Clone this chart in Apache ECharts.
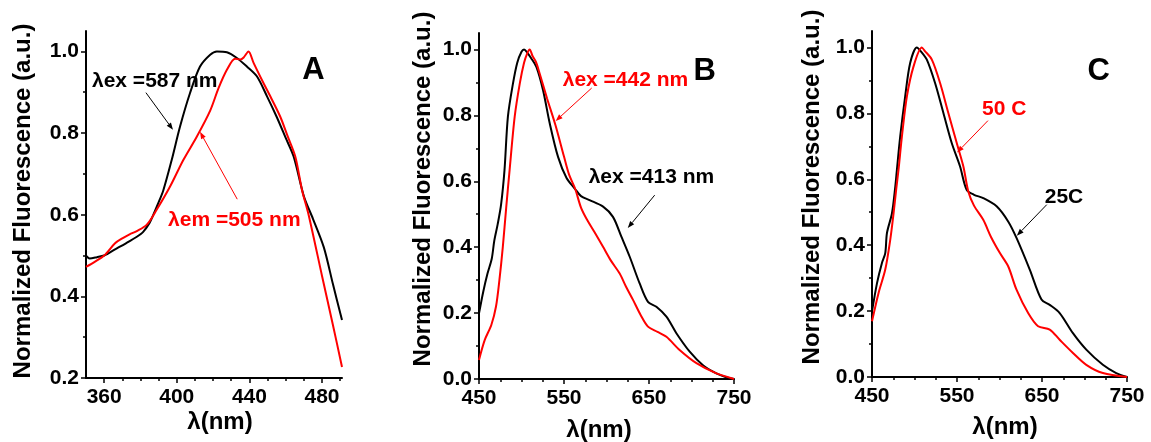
<!DOCTYPE html>
<html>
<head>
<meta charset="utf-8">
<script src="https://cdn.jsdelivr.net/npm/echarts@6/dist/echarts.min.js"></script>
<style>html,body{margin:0;padding:0;background:#fff}#c{width:1151px;height:442px}</style>
</head>
<body>
<div id="c"></div>
<script>
// ---------- data ----------
// Panel A
const A_black_x = [350,352,356,360,366,372,378,381.5,385,387,389.5,392.6,397.2,401.8,407.3,412.8,418.4,422.1,427.6,433.1,438.6,444.1,449.7,455,460,464.4,470,475,481,486,491];
const A_black_y = [0.500,0.493,0.496,0.500,0.515,0.530,0.546,0.558,0.580,0.599,0.625,0.660,0.734,0.816,0.898,0.963,0.992,1.000,0.998,0.984,0.963,0.939,0.890,0.840,0.788,0.742,0.645,0.590,0.520,0.430,0.342];
const A_red_x = [350,355,360,366,370,374,378,383.4,388.9,396.3,403.6,411,418.4,423,427.6,432.2,435,437,439.5,442.3,447.8,451.5,457,461,465.3,469,472.6,480,486,491];
const A_red_y = [0.472,0.485,0.500,0.530,0.542,0.552,0.560,0.575,0.612,0.669,0.734,0.791,0.855,0.910,0.955,0.982,0.980,0.986,1.000,0.972,0.922,0.890,0.840,0.793,0.742,0.660,0.600,0.450,0.330,0.227];
// Panel B
const B_black_x = [450,455,460,465,468,472,476,480,484,490,495,500,503,507,511,517.5,525.3,533.2,543,553,562.6,570,580,596,607.6,617.5,627.3,639,648.8,658.7,670.5,682.2,697.9,713.5,729.3,740,750];
const B_black_y = [0.199,0.265,0.320,0.365,0.420,0.470,0.530,0.634,0.796,0.897,0.960,0.993,1.000,0.990,0.975,0.947,0.877,0.776,0.674,0.610,0.578,0.555,0.543,0.523,0.492,0.432,0.371,0.290,0.234,0.219,0.189,0.139,0.083,0.042,0.017,0.006,0.000];
const B_red_x = [450,456.7,464.5,470,474,478,482,486,492,498,503,507,509.6,513,517,521,530,540,550,556,563,570,576.3,586,595.9,605,615.5,623,631.2,640,648.8,660,670.5,686,705.8,729.3,750];
const B_red_y = [0.058,0.118,0.164,0.220,0.300,0.400,0.520,0.634,0.796,0.897,0.960,0.990,1.000,0.980,0.962,0.930,0.852,0.770,0.675,0.620,0.578,0.520,0.487,0.445,0.401,0.360,0.320,0.280,0.240,0.195,0.159,0.143,0.128,0.088,0.048,0.017,0.000];
// Panel C
const C_black_x = [450,455.9,461.7,465.6,467.6,473.5,477.4,479.3,483.2,489,494.9,502.8,507,514.5,524.2,534,543.8,553.6,561.4,570,580.9,596.6,610.2,620,635.6,649.4,659.1,670.8,686.4,702.1,721.6,737.3,750];
const C_black_y = [0.199,0.285,0.346,0.376,0.437,0.497,0.578,0.629,0.730,0.851,0.953,1.000,0.990,0.963,0.892,0.801,0.710,0.639,0.568,0.553,0.543,0.518,0.472,0.422,0.326,0.235,0.219,0.194,0.133,0.083,0.037,0.012,0.000];
const C_red_x = [450,457.8,465.6,471.5,475.4,478.5,481.2,485.2,491,498.8,508.6,512,520.4,530.1,539.8,549.7,557.5,563.3,570,580.9,590,600.5,610.2,620,633.7,645.4,659.1,670.8,686.4,702.1,721.6,750];
const C_red_y = [0.169,0.256,0.326,0.417,0.497,0.570,0.629,0.730,0.851,0.942,1.000,0.990,0.963,0.892,0.801,0.710,0.639,0.563,0.520,0.477,0.425,0.376,0.336,0.265,0.194,0.154,0.144,0.113,0.073,0.037,0.012,0.000];

// tick labels
const A_xTicks = [360,400,440,480];
const A_xMinor = [370,380,390,410,420,430,450,460,470,490];
const A_yTicks = [0.2,0.4,0.6,0.8,1.0];
const A_yMinor = [0.3,0.5,0.7,0.9];
const BC_xTicks = [450,550,650,750];
const BC_xMinor = [475,500,525,575,600,625,675,700,725];
const BC_yTicks = [0.0,0.2,0.4,0.6,0.8,1.0];
const BC_yMinor = [0.1,0.3,0.5,0.7,0.9];

// annotations (data coordinates)
const panelLetters = ['A','B','C'];
const annotTexts = [
  {g:0, text:'λex =587 nm', color:'#000', at:[353.3,0.926]},
  {g:0, text:'λem =505 nm', color:'#ff0000', at:[395.2,0.587]},
  {g:1, text:'λex =442 nm', color:'#ff0000', at:[548.5,0.907]},
  {g:1, text:'λex =413 nm', color:'#000', at:[579,0.613]},
  {g:2, text:'50 C', color:'#ff0000', at:[579.4,0.814]},
  {g:2, text:'25C', color:'#000', at:[653.2,0.547]}
];
const annotArrows = [
  {g:0, color:'#000', from:[383.0,0.899], to:[397.9,0.808]},
  {g:0, color:'#ff0000', from:[433.3,0.638], to:[412.8,0.803]},
  {g:1, color:'#ff0000', from:[582.6,0.883], to:[540.2,0.783]},
  {g:1, color:'#000', from:[656.7,0.558], to:[625,0.458]},
  {g:2, color:'#ff0000', from:[586.4,0.778], to:[550,0.681]},
  {g:2, color:'#000', from:[655.6,0.523], to:[620.4,0.429]}
];
const letterPos = [[475.3,0.953],[715.5,0.934],[716.7,0.926]];

// ---------- chart ----------
const FONT = '"Liberation Sans", Arial, Helvetica, sans-serif';
const zip = (xs, ys) => xs.map((x, i) => [x, ys[i]]);
const grids = [
  {left:86, top:31, width:256, height:347},
  {left:479, top:33, width:255, height:346},
  {left:872, top:31, width:255, height:346}
];
const axLine = {show:true, onZero:false, lineStyle:{color:'#000', width:2}};
const hiddenLine = {show:true, onZero:false, lineStyle:{color:'rgba(0,0,0,0)', width:0}};
const tickStyle = {color:'#000', width:1.5};
const labStyle = {color:'#000', fontSize:21, fontWeight:'bold', fontFamily:FONT};

function xAxes(g, min, max, ticks, minors){
  return [
    {type:'value', gridIndex:g, position:'bottom', min, max, axisLine:axLine,
     axisTick:{show:true, customValues:ticks, length:5, lineStyle:tickStyle},
     axisLabel:Object.assign({customValues:ticks, margin:9, formatter:v=>String(v)}, labStyle),
     splitLine:{show:false}},
    {type:'value', gridIndex:g, position:'bottom', min, max, axisLine:hiddenLine,
     axisTick:{show:true, customValues:minors, length:3, lineStyle:tickStyle},
     axisLabel:{show:false}, splitLine:{show:false}}
  ];
}
function yAxes(g, min, max, ticks, minors){
  return [
    {type:'value', gridIndex:g, position:'left', min, max, axisLine:axLine,
     axisTick:{show:true, customValues:ticks, length:5, lineStyle:tickStyle},
     axisLabel:Object.assign({customValues:ticks, margin:7, formatter:v=>v.toFixed(1)}, labStyle),
     splitLine:{show:false}},
    {type:'value', gridIndex:g, position:'left', min, max, axisLine:hiddenLine,
     axisTick:{show:true, customValues:minors, length:3, lineStyle:tickStyle},
     axisLabel:{show:false}, splitLine:{show:false}}
  ];
}
function line(idx, data, color){
  return {type:'line', xAxisIndex:idx*2, yAxisIndex:idx*2, data, smooth:0.3,
    showSymbol:false, symbol:'none', lineStyle:{color, width:2}, itemStyle:{color}, silent:true, animation:false};
}

const chart = echarts.init(document.getElementById('c'), null, {renderer:'canvas'});
chart.setOption({
  animation:false,
  backgroundColor:'#fff',
  grid:grids,
  xAxis:[].concat(
    xAxes(0,350,491,A_xTicks,A_xMinor),
    xAxes(1,450,750,BC_xTicks,BC_xMinor),
    xAxes(2,450,750,BC_xTicks,BC_xMinor)),
  yAxis:[].concat(
    yAxes(0,0.2,1.05,A_yTicks,A_yMinor),
    yAxes(1,0,1.05,BC_yTicks,BC_yMinor),
    yAxes(2,0,1.05,BC_yTicks,BC_yMinor)),
  series:[
    line(0, zip(A_black_x,A_black_y), '#000'),
    line(0, zip(A_red_x,A_red_y), '#ff0000'),
    line(1, zip(B_black_x,B_black_y), '#000'),
    line(1, zip(B_red_x,B_red_y), '#ff0000'),
    line(2, zip(C_black_x,C_black_y), '#000'),
    line(2, zip(C_red_x,C_red_y), '#ff0000')
  ]
});

// ---------- annotations ----------
const px = (g, p) => chart.convertToPixel({xAxisIndex:g*2, yAxisIndex:g*2}, p);
const graphics = [];
annotTexts.forEach(a => {
  const p = px(a.g, a.at);
  graphics.push({type:'text', silent:true, style:{text:a.text, x:p[0], y:p[1], fill:a.color,
    font:'bold 21px ' + FONT, align:'left', verticalAlign:'middle'}});
});
annotArrows.forEach(a => {
  const p0 = px(a.g, a.from), p1 = px(a.g, a.to);
  const dx = p1[0]-p0[0], dy = p1[1]-p0[1], L = Math.hypot(dx,dy), ux = dx/L, uy = dy/L;
  const hl = 7, hw = 2.6;
  const bx = p1[0]-ux*hl, by = p1[1]-uy*hl;
  graphics.push({type:'line', silent:true, shape:{x1:p0[0], y1:p0[1], x2:bx, y2:by}, style:{stroke:a.color, lineWidth:1}});
  graphics.push({type:'polygon', silent:true, shape:{points:[[p1[0],p1[1]],[bx-uy*hw,by+ux*hw],[bx+uy*hw,by-ux*hw]]}, style:{fill:a.color}});
});
panelLetters.forEach((L, g) => {
  const p = px(g, letterPos[g]);
  graphics.push({type:'text', silent:true, style:{text:L, x:p[0], y:p[1], fill:'#000',
    font:'bold 31px ' + FONT, align:'center', verticalAlign:'middle'}});
});
// axis names
const yNamePos = [[23,201],[423,189],[812,187]];
const xNamePos = [[220,422],[599,430],[1005,427]];
for (let g = 0; g < 3; g++) {
  graphics.push({type:'text', silent:true, x:yNamePos[g][0], y:yNamePos[g][1], rotation:Math.PI/2,
    style:{text:'Normalized Fluorescence (a.u.)', x:0, y:0, fill:'#000', font:'bold 24px ' + FONT, align:'center', verticalAlign:'middle'}});
  graphics.push({type:'text', silent:true,
    style:{text:'λ(nm)', x:xNamePos[g][0], y:xNamePos[g][1], fill:'#000', font:'bold 24px ' + FONT, align:'center', verticalAlign:'middle'}});
}
chart.setOption({graphic:graphics});
</script>
</body>
</html>
